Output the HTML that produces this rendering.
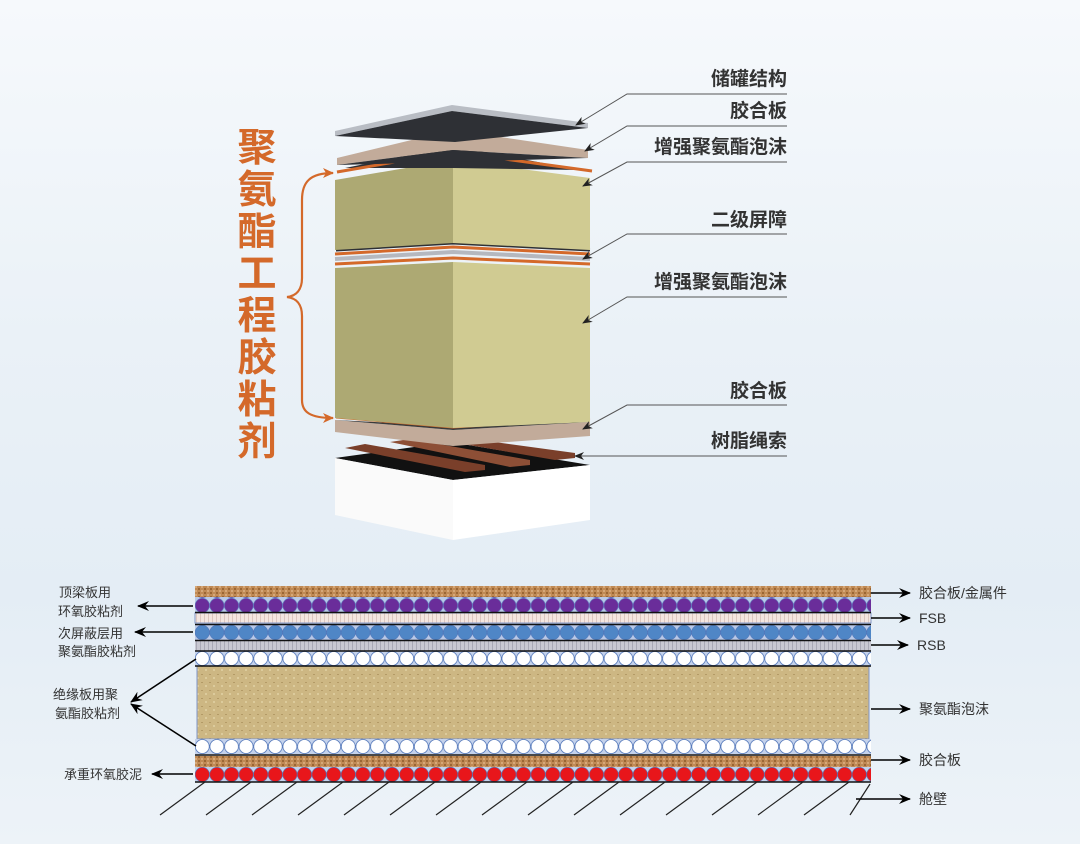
<!DOCTYPE html>
<html><head><meta charset="utf-8">
<style>
html,body{margin:0;padding:0;}
body{width:1080px;height:844px;overflow:hidden;background:linear-gradient(180deg,#f6f9fc 0%,#eaf1f7 40%,#e4edf5 70%,#edf3f8 100%);font-family:"Liberation Sans","Noto Sans CJK SC",sans-serif;}
svg{position:absolute;left:0;top:0;}
</style></head><body>
<svg width="1080" height="844" viewBox="0 0 1080 844" xmlns="http://www.w3.org/2000/svg">
<defs>
<pattern id="ply" width="6" height="4" patternUnits="userSpaceOnUse"><rect width="6" height="4" fill="#c08a55"/><rect x="0" y="0" width="2" height="2" fill="#9a6634"/><rect x="3" y="2" width="2" height="2" fill="#d6a878"/></pattern>
<pattern id="fsb" width="4" height="10" patternUnits="userSpaceOnUse"><rect width="4" height="10" fill="#f4e6e0"/><rect width="1" height="10" fill="#ddc7c0"/></pattern>
<pattern id="rsb" width="4" height="10" patternUnits="userSpaceOnUse"><rect width="4" height="10" fill="#c8c8d2"/><rect width="1" height="10" fill="#a9a9b6"/></pattern>
<pattern id="pc" x="195" y="598" width="14.6" height="15" patternUnits="userSpaceOnUse"><rect width="14.6" height="15" fill="#b9c9e8"/><circle cx="7.3" cy="7.5" r="7.2" fill="#6a2d9a" stroke="#5f7fc0" stroke-width="0.6"/></pattern>
<pattern id="bc" x="195" y="625" width="14.6" height="15" patternUnits="userSpaceOnUse"><rect width="14.6" height="15" fill="#b9c9e8"/><circle cx="7.3" cy="7.5" r="7.2" fill="#4f86c6" stroke="#4f74b8" stroke-width="0.6"/></pattern>
<pattern id="wc" x="195" y="651" width="14.6" height="15" patternUnits="userSpaceOnUse"><rect width="14.6" height="15" fill="#c4d2ec"/><circle cx="7.3" cy="7.5" r="7" fill="#fff" stroke="#4f74b8" stroke-width="0.8"/></pattern>
<pattern id="wc2" x="195" y="739" width="14.6" height="15" patternUnits="userSpaceOnUse"><rect width="14.6" height="15" fill="#c4d2ec"/><circle cx="7.3" cy="7.5" r="7" fill="#fff" stroke="#4f74b8" stroke-width="0.8"/></pattern>
<pattern id="rc" x="195" y="767" width="14.6" height="15" patternUnits="userSpaceOnUse"><rect width="14.6" height="15" fill="#c4d2ec"/><circle cx="7.3" cy="7.5" r="7.2" fill="#e8161b" stroke="#4f74b8" stroke-width="0.6"/></pattern>
<pattern id="foam" width="8" height="8" patternUnits="userSpaceOnUse"><rect width="8" height="8" fill="#cdb783"/><rect x="1" y="2" width="2" height="1" fill="#b39a66"/><rect x="5" y="5" width="2" height="2" fill="#dccb9c"/></pattern>
<marker id="ar" markerWidth="10" markerHeight="10" refX="9" refY="5" orient="auto" markerUnits="userSpaceOnUse"><path d="M0,1 L10,5 L0,9 L3,5z" fill="#222"/></marker>
<marker id="ab" markerWidth="12" markerHeight="10" refX="11" refY="5" orient="auto" markerUnits="userSpaceOnUse"><path d="M0,0 L12,5 L0,10 L4,5z" fill="#000"/></marker>
</defs>

<polygon points="335,458 450,442 590,465 453,480" fill="#111"/>
<polygon points="335,458 453,480 453,540 335,515" fill="#fafafa"/>
<polygon points="453,480 590,465 590,520 453,540" fill="#fff"/>
<polygon points="345,448 365,444 485,465 485,470 465,472" fill="#7a3f2a"/>
<polygon points="390,442 410,439 530,460 530,465 510,467" fill="#8d4f36"/>
<polygon points="440,440 465,438 575,453 575,458 555,460" fill="#7a3f2a"/>
<polygon points="335,420 453,430 590,422 590,436 453,446 335,432" fill="#c2ab9a"/>
<polygon points="335,420 453,430 590,422 453,426" fill="#3a3a3a"/>
<polyline points="336,417 453,427 590,418" fill="none" stroke="#d4692a" stroke-width="3"/>
<polygon points="335,268 453,262 453,428 335,418" fill="#ada973"/>
<polygon points="453,262 590,268 590,422 453,428" fill="#d0cb92"/>
<polyline points="335,264 453,258 590,264" fill="none" stroke="#d4692a" stroke-width="3"/>
<polyline points="335,259 453,252 590,259" fill="none" stroke="#b5b8bf" stroke-width="4"/>
<polyline points="335,254 453,247 590,254" fill="none" stroke="#d4692a" stroke-width="3"/>
<polyline points="336,250 453,243 590,250" fill="none" stroke="#2e3035" stroke-width="3"/>
<polygon points="335,180 453,160 453,243 335,250" fill="#ada973"/>
<polygon points="453,160 590,178 590,250 453,243" fill="#d0cb92"/>
<polygon points="345,168 453,146 580,170 453,168" fill="#2e3035"/>
<polyline points="337,172 453,152 592,171" fill="none" stroke="#d4692a" stroke-width="3"/>
<polygon points="337,158 453,130 588,150 588,158 453,150 337,165" fill="#c2ab9a"/>
<polygon points="337,165 453,150 588,158 453,162" fill="#2e3035"/>
<polygon points="335,131 452,105 588,123 588,128 452,111 335,136" fill="#b9bdc4"/>
<polygon points="335,136 452,111 588,128 455,142" fill="#2e3035"/>

<path d="M333,173 C310,173 302,182 302,200 L302,278 C302,290 296,296 287,297 C296,298 302,304 302,316 L302,400 C302,412 310,418 333,418" fill="none" stroke="#d4692a" stroke-width="2.2"/>
<path d="M323,168 L334,173 L323,178 L326,173z" fill="#d4692a"/>
<path d="M323,413 L334,418 L323,423 L326,418z" fill="#d4692a"/>
<g font-family="'Noto Sans CJK SC',sans-serif" font-weight="bold" font-size="39" fill="#d4692a" text-anchor="middle">
<text x="257" y="161">聚</text><text x="257" y="203">氨</text><text x="257" y="245">酯</text><text x="257" y="287">工</text><text x="257" y="329">程</text><text x="257" y="371">胶</text><text x="257" y="413">粘</text><text x="257" y="455">剂</text>
</g>

<g font-family="'Noto Sans CJK SC',sans-serif" font-weight="bold" font-size="19" fill="#333" text-anchor="end">
<text x="787" y="85">储罐结构</text>
<text x="787" y="117">胶合板</text>
<text x="787" y="153">增强聚氨酯泡沫</text>
<text x="787" y="226">二级屏障</text>
<text x="787" y="288">增强聚氨酯泡沫</text>
<text x="787" y="397">胶合板</text>
<text x="787" y="447">树脂绳索</text>
</g>
<g stroke="#555" stroke-width="1" fill="none">
<polyline points="787,94 627,94 576,125" marker-end="url(#ar)"/>
<polyline points="787,126 627,126 585,151" marker-end="url(#ar)"/>
<polyline points="787,162 627,162 583,186" marker-end="url(#ar)"/>
<polyline points="787,234 627,234 583,259" marker-end="url(#ar)"/>
<polyline points="787,297 627,297 583,323" marker-end="url(#ar)"/>
<polyline points="787,405 627,405 583,429" marker-end="url(#ar)"/>
<polyline points="787,456 575,456" marker-end="url(#ar)"/>
</g>

<rect x="195" y="586" width="676" height="11" fill="url(#ply)"/>
<rect x="195" y="597" width="676" height="15" fill="url(#pc)"/>
<rect x="195" y="613" width="676" height="10" fill="url(#fsb)" stroke="#7f96c8" stroke-width="1"/>
<rect x="195" y="625" width="676" height="15" fill="url(#bc)"/>
<rect x="195" y="641" width="676" height="10" fill="url(#rsb)"/>
<rect x="195" y="651" width="676" height="15" fill="url(#wc)"/>
<rect x="197" y="666" width="672" height="73" fill="url(#foam)" stroke="#7f96c8" stroke-width="1"/>
<rect x="195" y="739" width="676" height="15" fill="url(#wc2)"/>
<rect x="195" y="756" width="676" height="11" fill="url(#ply)"/>
<rect x="195" y="767" width="676" height="15" fill="url(#rc)"/>
<g stroke="#111" stroke-width="1.4">
<line x1="195" y1="612.5" x2="871" y2="612.5"/>
<line x1="195" y1="624.5" x2="871" y2="624.5"/>
<line x1="195" y1="640.5" x2="871" y2="640.5"/>
<line x1="195" y1="651" x2="871" y2="651"/>
<line x1="195" y1="666" x2="871" y2="666"/>
<line x1="195" y1="755" x2="871" y2="755"/>
<line x1="195" y1="782" x2="871" y2="782"/>
</g>
<g stroke="#222" stroke-width="1.2">
<line x1="205" y1="782" x2="160" y2="815"/><line x1="251" y1="782" x2="206" y2="815"/><line x1="297" y1="782" x2="252" y2="815"/><line x1="343" y1="782" x2="298" y2="815"/><line x1="389" y1="782" x2="344" y2="815"/><line x1="435" y1="782" x2="390" y2="815"/><line x1="481" y1="782" x2="436" y2="815"/><line x1="527" y1="782" x2="482" y2="815"/><line x1="573" y1="782" x2="528" y2="815"/><line x1="619" y1="782" x2="574" y2="815"/><line x1="665" y1="782" x2="620" y2="815"/><line x1="711" y1="782" x2="666" y2="815"/><line x1="757" y1="782" x2="712" y2="815"/><line x1="803" y1="782" x2="758" y2="815"/><line x1="849" y1="782" x2="804" y2="815"/><line x1="870" y1="784" x2="850" y2="815"/>
</g>
<g stroke="#000" stroke-width="1.6" fill="none">
<line x1="193" y1="606" x2="138" y2="606" marker-end="url(#ab)"/>
<line x1="193" y1="632" x2="135" y2="632" marker-end="url(#ab)"/>
<line x1="196" y1="659" x2="131" y2="702" marker-end="url(#ab)"/>
<line x1="196" y1="746" x2="131" y2="704" marker-end="url(#ab)"/>
<line x1="193" y1="774" x2="152" y2="774" marker-end="url(#ab)"/>
<line x1="871" y1="593" x2="910" y2="593" marker-end="url(#ab)"/>
<line x1="871" y1="618" x2="910" y2="618" marker-end="url(#ab)"/>
<line x1="871" y1="645" x2="908" y2="645" marker-end="url(#ab)"/>
<line x1="871" y1="709" x2="910" y2="709" marker-end="url(#ab)"/>
<line x1="871" y1="760" x2="910" y2="760" marker-end="url(#ab)"/>
<line x1="856" y1="799" x2="910" y2="799" marker-end="url(#ab)"/>
</g>
<g font-family="'Liberation Sans','Noto Sans CJK SC',sans-serif" font-size="13" fill="#333">
<text x="59" y="597">顶梁板用</text>
<text x="58" y="616">环氧胶粘剂</text>
<text x="58" y="638">次屏蔽层用</text>
<text x="58" y="656">聚氨酯胶粘剂</text>
<text x="53" y="699">绝缘板用聚</text>
<text x="55" y="718">氨酯胶粘剂</text>
<text x="64" y="779">承重环氧胶泥</text>
</g>
<g font-family="'Liberation Sans','Noto Sans CJK SC',sans-serif" font-size="14" fill="#333">
<text x="919" y="598">胶合板/金属件</text>
<text x="919" y="623">FSB</text>
<text x="917" y="650">RSB</text>
<text x="919" y="714">聚氨酯泡沫</text>
<text x="919" y="765">胶合板</text>
<text x="919" y="804">舱壁</text>
</g>
</svg>
</body></html>
